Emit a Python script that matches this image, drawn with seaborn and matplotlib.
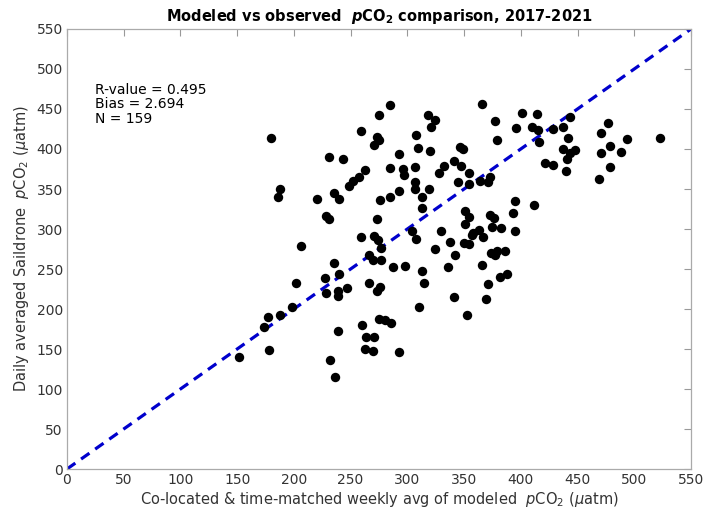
import matplotlib
matplotlib.use("Agg")
import matplotlib.pyplot as plt
import seaborn as sns
import pandas as pd

modeled = [152, 174, 177, 178, 180, 186, 188, 188, 198, 202, 206,
           220, 227, 228, 228, 231, 231, 235, 232, 236, 235, 239, 239, 240, 240, 239, 243, 249, 247, 252, 257,
           259, 259, 260, 263, 263, 266, 266, 264, 270, 271, 270, 271, 273, 273, 274, 273, 275, 275, 276, 276,
           277, 277, 275, 280, 286, 271, 285, 285, 285, 287, 293, 293, 293, 297, 296, 298,
           304, 308, 309, 307, 307, 307, 308, 310, 313, 313, 313, 315, 318, 324, 321, 319, 320, 324, 328, 332,
           330, 336, 338, 342, 341, 341, 345, 346, 347,
           349, 350, 351, 351, 353, 354, 354, 354, 354, 357, 358, 363, 364, 366, 366, 367, 369, 371, 371, 373,
           373, 375, 374, 376, 377, 377, 379, 379, 382, 383, 386, 388, 393, 395, 395, 396,
           401, 410, 412, 414, 415, 416, 421, 428, 428, 437, 437, 440, 441, 442, 443, 443, 448,
           469, 471, 471, 477, 479, 479, 488, 494, 523]
observed = [140, 177, 190, 149, 414, 340, 350, 193, 202, 232, 279,
            337, 239, 220, 316, 313, 390, 345, 136, 115, 258, 172, 222, 337, 244, 216, 388, 354, 226, 360, 365,
            423, 290, 180, 150, 374, 267, 233, 165, 261, 405, 147, 291, 415, 313, 286, 222, 411, 442, 336, 228,
            276, 261, 187, 186, 183, 165, 455, 340, 376, 253, 394, 146, 348, 367, 375, 254,
            297, 417, 401, 378, 359, 350, 288, 203, 340, 326, 247, 232, 442, 436, 427, 350, 398, 275, 370, 379,
            298, 252, 284, 268, 385, 215, 359, 403, 379,
            400, 283, 323, 306, 192, 370, 356, 315, 281, 292, 295, 299, 360, 456, 255, 290, 212, 231, 359, 365,
            317, 302, 270, 314, 267, 435, 272, 411, 240, 301, 272, 244, 320, 335, 297, 426,
            445, 428, 330, 444, 424, 409, 382, 380, 425, 427, 400, 372, 387, 414, 440, 395, 399,
            363, 420, 395, 432, 404, 377, 396, 413, 414]
diag = [0, 550]
ticks = list(range(0, 551, 50))
stats_text = "R-value = 0.495\nBias = 2.694\nN = 159"

df = pd.DataFrame({"modeled": modeled, "observed": observed})

sns.set_theme(style="white")
plt.rcParams['font.family'] = ['DejaVu Sans']

fig = plt.figure(figsize=(7.11, 5.15), dpi=100)
ax = fig.add_axes([0.0942, 0.0893, 0.8776, 0.8544])

ax.plot(diag, diag, linestyle=(0, (3.2, 2.2)), color="#0000cc", linewidth=2.3, zorder=1)
sns.scatterplot(data=df, x="modeled", y="observed", ax=ax, color="black", s=46,
                edgecolor="black", linewidth=0, zorder=2)

ax.set_xlim(0, 550)
ax.set_ylim(0, 550)
ax.set_xticks(ticks)
ax.set_yticks(ticks)
ax.tick_params(direction="in", length=5, width=0.8, colors="#999999", labelcolor="#333333",
               labelsize=10, top=True, right=True, pad=3)
for sp in ax.spines.values():
    sp.set_color("#aaaaaa")
    sp.set_linewidth(0.9)

ax.set_xlabel(r"Co-located & time-matched weekly avg of modeled  $p$CO$_2$ ($\mu$atm)",
              fontsize=10.5, color="#333333", labelpad=2)
ax.set_ylabel(r"Daily averaged Saildrone  $p$CO$_2$ ($\mu$atm)",
              fontsize=10.5, color="#333333", labelpad=4)
ax.set_title(r"Modeled vs observed  $\mathbfit{p}$CO$_\mathbf{2}$ comparison, 2017-2021",
             fontsize=10.5, fontweight="bold", color="black", pad=6)
ax.text(25, 483, stats_text, fontsize=10, color="black", va="top", ha="left", linespacing=1.05)

fig.savefig("out.png", dpi=100)
